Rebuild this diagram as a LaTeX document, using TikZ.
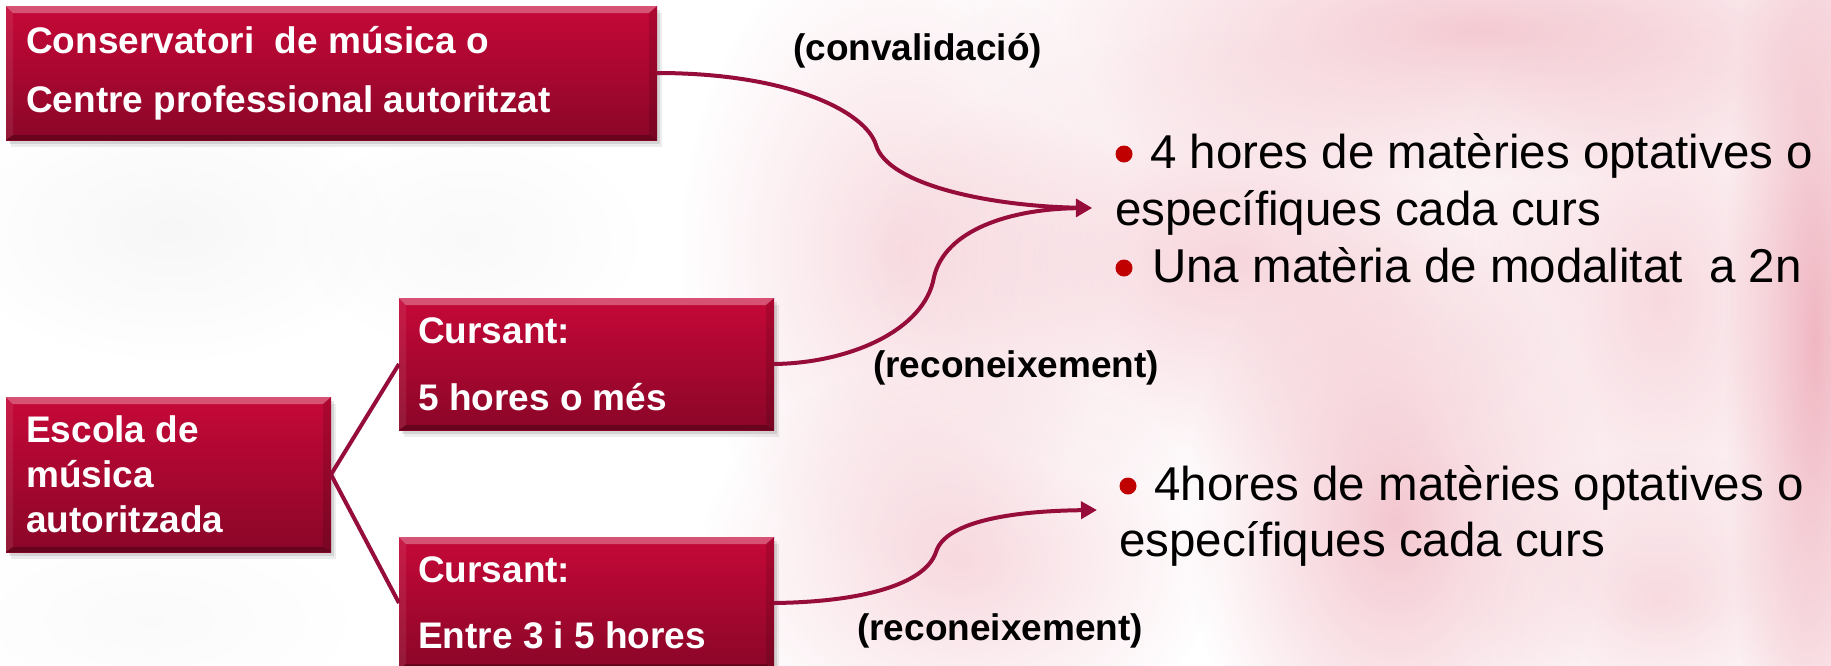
\documentclass[tikz,border=0pt]{standalone}
\usepackage{fontspec}
\setmainfont{Liberation Sans}
\usetikzlibrary{arrows.meta,fadings}
\definecolor{boxtop}{RGB}{198,8,56}
\definecolor{boxbot}{RGB}{138,6,40}
\definecolor{lnk}{RGB}{150,12,58}
\definecolor{bulred}{RGB}{192,0,0}
\definecolor{bgpink}{RGB}{240,180,192}
\definecolor{bggray}{RGB}{200,200,200}
\tikzfading[name=softblob, inner color=transparent!0, outer color=transparent!100]
\newcommand{\bevelbox}[1]{%
  \fill[white,opacity=0.30] (#1.north west) -- (#1.north east) -- ([xshift=-8pt,yshift=-7pt]#1.north east) -- ([xshift=7pt,yshift=-7pt]#1.north west) -- cycle;
  \fill[white,opacity=0.08] (#1.north west) -- ([xshift=7pt,yshift=-7pt]#1.north west) -- ([xshift=7pt,yshift=5pt]#1.south west) -- (#1.south west) -- cycle;
  \fill[black,opacity=0.12] (#1.north east) -- ([xshift=-8pt,yshift=-7pt]#1.north east) -- ([xshift=-8pt,yshift=5pt]#1.south east) -- (#1.south east) -- cycle;
  \fill[black,opacity=0.25] (#1.south west) -- ([xshift=7pt,yshift=5pt]#1.south west) -- ([xshift=-8pt,yshift=5pt]#1.south east) -- (#1.south east) -- cycle;
}
\tikzset{
  boxnode/.style={anchor=north west, inner sep=0pt, outer sep=0pt,
    top color=boxtop, bottom color=boxbot,
    preaction={fill=black, opacity=0.07, transform canvas={shift={(5pt,-7pt)}}},
    preaction={fill=black, opacity=0.10, transform canvas={shift={(3pt,-4pt)}}}},
  boxtxt/.style={anchor=base west, inner sep=0pt, text=white, font=\bfseries\fontsize{37}{44}\selectfont},
  lbltxt/.style={anchor=base west, inner sep=0pt, text=black, font=\bfseries\fontsize{37}{44}\selectfont},
  bigtxt/.style={anchor=base west, inner sep=0pt, text=black, font=\fontsize{47.5}{57}\selectfont},
  bul/.style={circle, fill=bulred, minimum size=17pt, inner sep=0pt},
  link/.style={draw=lnk, line width=4pt},
  arr/.style={draw=lnk, line width=4pt, -{Triangle[length=16pt,width=17pt]}},
  blob/.style={path fading=softblob}
}
\begin{document}
\begin{tikzpicture}[x=1pt,y=-1pt]
\useasboundingbox (0,0) rectangle (1831,665);
\fill[white] (0,0) rectangle (1831,665);
% background blobs
\fill[bggray,blob,opacity=0.14] (170,230) ellipse [x radius=220, y radius=130];
\fill[bggray,blob,opacity=0.10] (470,240) ellipse [x radius=170, y radius=110];
\fill[bggray,blob,opacity=0.08] (150,620) ellipse [x radius=200, y radius=90];
\fill[bgpink,blob,opacity=0.45] (900,250) ellipse [x radius=220, y radius=320];
\fill[bgpink,blob,opacity=0.50] (960,560) ellipse [x radius=260, y radius=200];
\fill[bgpink,blob,opacity=0.70] (1480,30) ellipse [x radius=520, y radius=150];
\fill[bgpink,blob,opacity=0.55] (1230,260) ellipse [x radius=360, y radius=230];
\fill[bgpink,blob,opacity=0.75] (1395,520) ellipse [x radius=210, y radius=300];
\fill[bgpink,blob,opacity=0.50] (1660,300) ellipse [x radius=220, y radius=340];
\fill[bgpink,blob,opacity=0.45] (1660,600) ellipse [x radius=200, y radius=150];
\fill[bgpink,blob,opacity=0.95] (1815,340) ellipse [x radius=90, y radius=560];
% boxes
\node[boxnode, minimum width=651pt, minimum height=134pt] (cons) at (6,6) {};
\node[boxnode, minimum width=325pt, minimum height=155pt] (esc) at (6,397) {};
\node[boxnode, minimum width=375pt, minimum height=132pt] (c1) at (399,298) {};
\node[boxnode, minimum width=375pt, minimum height=132pt] (c2) at (399,537) {};
\bevelbox{cons}
\bevelbox{esc}
\bevelbox{c1}
\bevelbox{c2}
% connectors
\coordinate (t1) at (1092,208);
\coordinate (t2) at (1097,510);
\draw[link] (esc.east) -- (c1.west);
\draw[link] (esc.east) -- (c2.west);
\draw[arr] (cons.east) .. controls (790,73) and (866,112) .. (876,145) .. controls (888,185) and (990,206) .. (t1);
\draw[arr] (c1.east) .. controls (850,363) and (925,330) .. (934,277) .. controls (945,230) and (1010,209) .. (t1);
\draw[arr] (c2.east) .. controls (860,602) and (925,585) .. (936,552) .. controls (945,522) and (1010,511) .. (t2);
% box texts
\node[boxtxt] (cons1) at (26,53) {Conservatori\ \ de música o};
\node[boxtxt] (cons2) at (26,112) {Centre professional autoritzat};
\node[boxtxt] (esc1) at (26,442) {Escola de};
\node[boxtxt] (esc2) at (26,487) {música};
\node[boxtxt] (esc3) at (26,532) {autoritzada};
\node[boxtxt] (c1a) at (418,343) {Cursant:};
\node[boxtxt] (c1b) at (418,410) {5 hores o més};
\node[boxtxt] (c2a) at (418,582) {Cursant:};
\node[boxtxt] (c2b) at (418,648) {Entre 3 i 5 hores};
% labels
\node[lbltxt] (conv) at (793,60) {(convalidació)};
\node[lbltxt] (rec1) at (873,377) {(reconeixement)};
\node[lbltxt] (rec2) at (857,640) {(reconeixement)};
% right texts
\node[bul] (b1) at (1124,154) {};
\node[bigtxt] (r1a) at (1150,168) {4 hores de matèries optatives o};
\node[bigtxt] (r1b) at (1115,225) {específiques cada curs};
\node[bul] (b2) at (1124,268) {};
\node[bigtxt] (r1c) at (1152,282) {Una matèria de modalitat\ \ a 2n};
\node[bul] (b3) at (1128,486) {};
\node[bigtxt] (r2a) at (1154,500) {4hores de matèries optatives o};
\node[bigtxt] (r2b) at (1119,556) {específiques cada curs};
\end{tikzpicture}
\end{document}
